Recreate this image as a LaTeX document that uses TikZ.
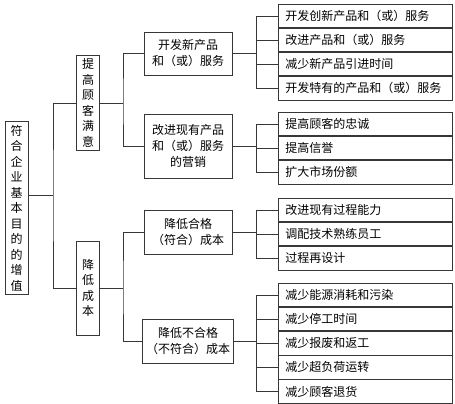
\documentclass[tikz,border=0pt]{standalone}
\usepackage{fontspec}
\newfontfamily\cjk{Noto Sans CJK SC}
\usepackage{tikz}
\usetikzlibrary{positioning}
\definecolor{linegray}{RGB}{55,55,55}

\begin{document}
\begin{tikzpicture}[x=1pt, y=-1pt, line width=0.8pt]
  \tikzstyle{vbox} = [rectangle, draw=linegray, minimum width=23pt, inner xsep=2pt, align=center, font=\cjk\fontsize{12}{15.5}\selectfont]
  \tikzstyle{midbox} = [rectangle, draw=linegray, minimum width=88pt, align=center, font=\cjk\fontsize{12}{16}\selectfont]
  \tikzstyle{leaf} = [rectangle, draw=linegray, text width=160pt, inner xsep=7pt, minimum height=23.3pt, align=left, anchor=north west, font=\cjk\fontsize{12}{15}\selectfont]
  \tikzstyle{conn} = [draw=linegray]

  \useasboundingbox (0,0) rectangle (455,404);

  % left column
  \node[vbox, minimum height=170pt] (root) at (16.5,208) {符\\合\\企\\业\\基\\本\\目\\的\\的\\增\\值};
  \node[vbox, minimum height=94pt] (sat) at (88,103) {提\\高\\顾\\客\\满\\意};
  \node[vbox, minimum height=94pt] (cost) at (88,288) {降\\低\\成\\本};

  % middle column
  \node[midbox, minimum height=43pt] (newprod) at (188,53.5) {开发新产品\\和（或）服务};
  \node[midbox, minimum height=64pt] (market) at (188,146) {改进现有产品\\和（或）服务\\的营销};
  \node[midbox, minimum height=44pt] (conform) at (188,232) {降低合格\\（符合）成本};
  \node[midbox, minimum height=44pt] (nonconf) at (188,341) {降低不合格\\（不符合）成本};

  % right column
  \node[leaf] (a1) at (278,4) {开发创新产品和（或）服务};
  \node[leaf, below=0pt of a1] (a2) {改进产品和（或）服务};
  \node[leaf, below=0pt of a2] (a3) {减少新产品引进时间};
  \node[leaf, below=0pt of a3] (a4) {开发特有的产品和（或）服务};

  \node[leaf] (b1) at (278,112) {提高顾客的忠诚};
  \node[leaf, below=0pt of b1] (b2) {提高信誉};
  \node[leaf, below=0pt of b2] (b3) {扩大市场份额};

  \node[leaf] (c1) at (278,198) {改进现有过程能力};
  \node[leaf, below=0pt of c1] (c2) {调配技术熟练员工};
  \node[leaf, below=0pt of c2] (c3) {过程再设计};

  \node[leaf] (d1) at (278,283) {减少能源消耗和污染};
  \node[leaf, below=0pt of d1] (d2) {减少停工时间};
  \node[leaf, below=0pt of d2] (d3) {减少报废和返工};
  \node[leaf, below=0pt of d3] (d4) {减少超负荷运转};
  \node[leaf, below=0pt of d4] (d5) {减少顾客退货};

  % connectors
  \coordinate (j0) at (53,195);
  \draw[conn] (root.east |- j0) -- (j0);
  \draw[conn] (sat.west) -| (j0) |- (cost.west);

  \coordinate (js) at (123,103);
  \draw[conn] (sat.east) -- (js);
  \draw[conn] (newprod.west) -| (js) |- (market.west);

  \coordinate (jc) at (123,288);
  \draw[conn] (cost.east) -- (jc);
  \draw[conn] (conform.west) -| (jc) |- (nonconf.west);

  \coordinate (jn) at (256,53.5);
  \draw[conn] (newprod.east) -- (jn);
  \draw[conn] (a1.west -| jn) -- (a4.west -| jn);
  \foreach \n in {a1,a2,a3,a4}
    \draw[conn] (\n.west) -- (\n.west -| jn);

  \coordinate (jm) at (256,146);
  \draw[conn] (market.east) -- (jm);
  \draw[conn] (b1.west -| jm) -- (b3.west -| jm);
  \foreach \n in {b1,b2,b3}
    \draw[conn] (\n.west) -- (\n.west -| jm);

  \coordinate (jf) at (256,232);
  \draw[conn] (conform.east) -- (jf);
  \draw[conn] (c1.west -| jf) -- (c3.west -| jf);
  \foreach \n in {c1,c2,c3}
    \draw[conn] (\n.west) -- (\n.west -| jf);

  \coordinate (ju) at (256,341);
  \draw[conn] (nonconf.east) -- (ju);
  \draw[conn] (d1.west -| ju) -- (d5.west -| ju);
  \foreach \n in {d1,d2,d3,d4,d5}
    \draw[conn] (\n.west) -- (\n.west -| ju);
\end{tikzpicture}
\end{document}
